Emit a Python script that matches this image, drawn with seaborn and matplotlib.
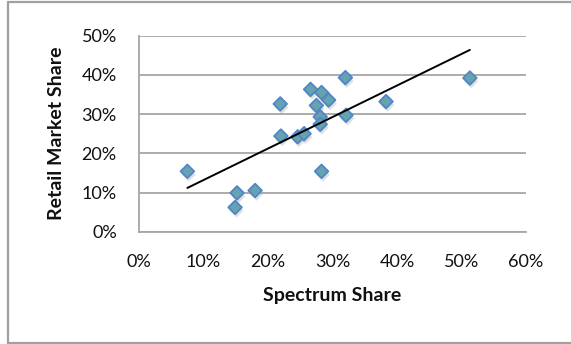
import numpy as np
import pandas as pd
import matplotlib
matplotlib.use("Agg")
import matplotlib.pyplot as plt
import matplotlib.patheffects as pe
from matplotlib.ticker import PercentFormatter
from matplotlib.lines import Line2D
import seaborn as sns

# Spectrum share vs retail market share (fractions)
spectrum_share = [0.075, 0.152, 0.149, 0.180, 0.219, 0.220, 0.246, 0.256, 0.266, 0.275,
                  0.283, 0.294, 0.281, 0.281, 0.283, 0.320, 0.321, 0.383, 0.513]
retail_share = [0.154, 0.099, 0.062, 0.105, 0.326, 0.244, 0.242, 0.250, 0.363, 0.322,
                0.355, 0.336, 0.293, 0.274, 0.154, 0.393, 0.297, 0.332, 0.392]

x_ticks = [0, 0.1, 0.2, 0.3, 0.4, 0.5, 0.6]
y_ticks = [0, 0.1, 0.2, 0.3, 0.4, 0.5]

df = pd.DataFrame({"Spectrum Share": spectrum_share, "Retail Market Share": retail_share})

sns.set_style("white")
plt.rcParams["font.family"] = ["Lato", "DejaVu Sans"]

fig = plt.figure(figsize=(5.71, 3.44), dpi=100)
ax = fig.add_axes([139 / 571, 1 - 231.7 / 344, 387 / 571, 196 / 344])

grid_col = "#a6a6a6"
ax.set_xticks(x_ticks)
ax.set_yticks(y_ticks)
ax.xaxis.set_major_formatter(PercentFormatter(1.0, decimals=0))
ax.yaxis.set_major_formatter(PercentFormatter(1.0, decimals=0))
ax.yaxis.grid(True, color=grid_col, linewidth=1.3)
ax.xaxis.grid(False)
ax.set_axisbelow(True)
for s in ["top", "right"]:
    ax.spines[s].set_visible(False)
for s in ["left", "bottom"]:
    ax.spines[s].set_color(grid_col)
    ax.spines[s].set_linewidth(1.3)
ax.tick_params(axis="both", which="major", direction="out", length=5, width=1.3,
               color=grid_col, labelsize=13, labelcolor="#111111")
ax.tick_params(axis="x", pad=11)
ax.tick_params(axis="y", pad=11)

sns.scatterplot(data=df, x="Spectrum Share", y="Retail Market Share", ax=ax,
                marker="D", s=48, color="#67a2b0", edgecolor="#4f86c6", linewidth=1.3,
                zorder=3, legend=False)
ax.collections[-1].set_path_effects([
    pe.SimplePatchShadow(offset=(1.0, -2.5), shadow_rgbFace="#999999", alpha=0.3),
    pe.Normal()])

sns.regplot(data=df, x="Spectrum Share", y="Retail Market Share", ax=ax,
            scatter=False, ci=None, truncate=True,
            line_kws={"color": "black", "linewidth": 1.4, "zorder": 4})

ax.set_xlim(0, 0.6)
ax.set_ylim(0, 0.5)
ax.set_xlabel("Spectrum Share", fontsize=14, fontweight="bold", color="#111111")
ax.set_ylabel("Retail Market Share", fontsize=14, fontweight="bold", color="#111111")
ax.xaxis.set_label_coords(0.5, -0.28)
ax.yaxis.set_label_coords(-0.192, 0.5)

# outer chart border (left, top, bottom)
border = "#a0a0a0"
fig.add_artist(Line2D([8 / 571, 8 / 571], [1 - 343 / 344, 1 - 1.5 / 344],
                      transform=fig.transFigure, color=border, linewidth=1.6))
fig.add_artist(Line2D([8 / 571, 1], [1 - 1.5 / 344, 1 - 1.5 / 344],
                      transform=fig.transFigure, color=border, linewidth=1.6))
fig.add_artist(Line2D([8 / 571, 1], [1 - 343 / 344, 1 - 343 / 344],
                      transform=fig.transFigure, color=border, linewidth=1.6))

fig.savefig("out.png", dpi=100)
